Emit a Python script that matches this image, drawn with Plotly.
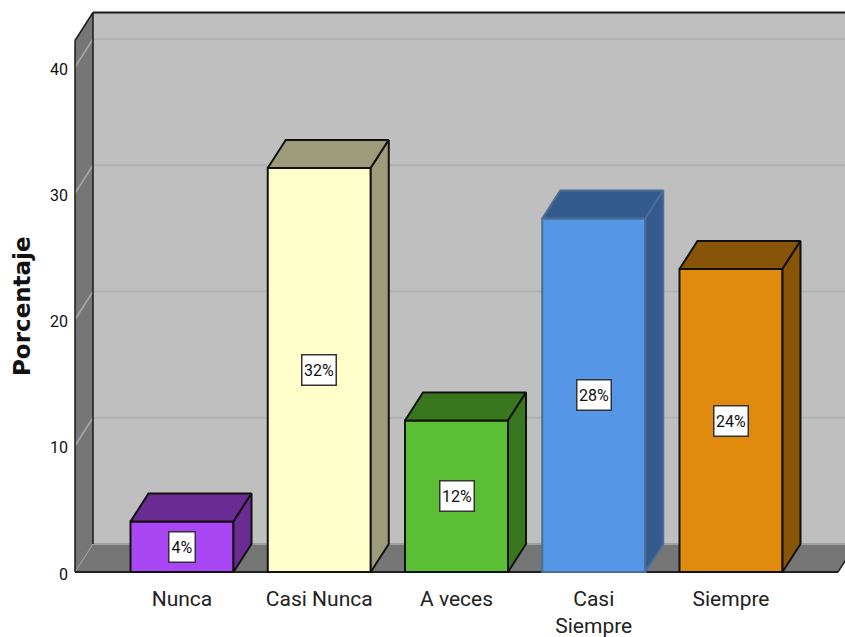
import plotly.graph_objects as go

categories = ["Nunca", "Casi Nunca", "A veces", "Casi Siempre", "Siempre"]
tick_labels = ["Nunca", "Casi Nunca", "A veces", "Casi<br>Siempre", "Siempre"]
values = [4, 32, 12, 28, 24]
front_colors = ["#A947F5", "#FFFFCB", "#5BBF36", "#5596E6", "#E08A0E"]
side_colors = ["#6A2C93", "#9C9C7C", "#39771F", "#345B8D", "#885408"]
edge_colors = ["#111111", "#111111", "#111111", "#4A6E96", "#111111"]
y_ticks = [0, 10, 20, 30, 40]

# pixel calibration of the plotting region
W, H = 845, 637
PX_X = 137.25      # px per category
PX_Y = 12.625      # px per percent
X0_PX, Y0_PX = 182.0, 572.0
LEFT_PX, BOTTOM_PX, TOP_PX = 69.0, 578.0, 10.0
DX, DY = 18 / PX_X, 28 / PX_Y    # depth of the 3D box
BAR_W = 103 / PX_X
X_L = (75 - X0_PX) / PX_X        # front-left corner of the box
X_R = (838 - X0_PX) / PX_X       # front-right corner of the floor
Y_T = (572 - 40.5) / PX_Y        # top of the wall, front

x_range = [(LEFT_PX - X0_PX) / PX_X, (W - X0_PX) / PX_X]
y_range = [(Y0_PX - BOTTOM_PX) / PX_Y, (Y0_PX - TOP_PX) / PX_Y]


def poly(xs, ys, fill, line="rgba(0,0,0,0)", width=0):
    path = "M " + " L ".join(f"{x},{y}" for x, y in zip(xs, ys)) + " Z"
    return dict(type="path", path=path, xref="x", yref="y", fillcolor=fill,
                line=dict(color=line, width=width), layer="below")


def seg(x0, y0, x1, y1, color, width=1.5):
    return dict(type="line", x0=x0, y0=y0, x1=x1, y1=y1, xref="x", yref="y",
                line=dict(color=color, width=width), layer="below")


shapes = []
# back wall
shapes.append(poly([X_L + DX, X_R + DX, X_R + DX, X_L + DX], [DY, DY, Y_T + DY, Y_T + DY], "#BFBFBF"))
# left wall
shapes.append(poly([X_L, X_L + DX, X_L + DX, X_L], [0, DY, Y_T + DY, Y_T], "#767676"))
# floor
shapes.append(poly([X_L, X_R, X_R + DX, X_L + DX], [0, 0, DY, DY], "#767676"))
# grid
for t in y_ticks[1:]:
    shapes.append(seg(X_L + DX, t + DY, X_R + DX, t + DY, "#B2B2B2", 2))
    shapes.append(seg(X_L, t, X_L + DX, t + DY, "#A8A8A8", 1.5))
shapes.append(seg(X_L + DX, DY, X_R + DX, DY, "#A0A0A0", 2))
shapes.append(seg(X_L, 0, X_L + DX, DY, "#A0A0A0", 1))
# black edges
shapes.append(seg(X_L, 0, X_L, Y_T, "#1A1A1A", 1.5))
shapes.append(seg(X_L + DX, DY, X_L + DX, Y_T + DY, "#1A1A1A", 1.5))
shapes.append(seg(X_L, Y_T, X_L + DX, Y_T + DY, "#1A1A1A", 1.5))
shapes.append(seg(X_L + DX, Y_T + DY, X_R + DX, Y_T + DY, "#1A1A1A", 2))
shapes.append(seg(X_L, 0, X_R, 0, "#222222", 2))
shapes.append(seg(X_R, 0, X_R + DX, DY, "#222222", 1.5))

fig = go.Figure()
positions = list(range(len(values)))

# front faces
fig.add_trace(go.Bar(
    x=positions, y=values, width=BAR_W,
    marker=dict(color=front_colors, line=dict(color=edge_colors, width=2)),
    hoverinfo="skip", showlegend=False,
))

# top and side faces
for p, v, side, edge in zip(positions, values, side_colors, edge_colors):
    l, r = p - BAR_W / 2, p + BAR_W / 2
    fig.add_trace(go.Scatter(
        x=[l, r, r + DX, l + DX, l], y=[v, v, v + DY, v + DY, v],
        mode="lines", fill="toself", fillcolor=side,
        line=dict(color=edge, width=2), hoverinfo="skip", showlegend=False,
    ))
    fig.add_trace(go.Scatter(
        x=[r, r + DX, r + DX, r, r], y=[0, DY, v + DY, v, 0],
        mode="lines", fill="toself", fillcolor=side,
        line=dict(color=edge, width=2), hoverinfo="skip", showlegend=False,
    ))

annotations = []
for p, v in zip(positions, values):
    label = f"{v}%"
    annotations.append(dict(
        x=p, y=v / 2, xref="x", yref="y", text=label, showarrow=False,
        font=dict(family="Roboto", size=16, color="#111111"),
        bgcolor="#FFFFFF", bordercolor="#333333", borderwidth=1.5, borderpad=0,
        width=33 if v >= 10 else 25, height=29, align="center", valign="middle",
    ))
annotations.append(dict(
    xref="paper", yref="paper",
    x=(22 - LEFT_PX) / (W - LEFT_PX),
    y=(BOTTOM_PX - 306) / (BOTTOM_PX - TOP_PX),
    text="<b>Porcentaje</b>", textangle=-90, showarrow=False,
    font=dict(family="DejaVu Sans", size=23, color="#111111"),
    xanchor="center", yanchor="middle",
))

fig.update_layout(
    width=W, height=H, autosize=False,
    margin=dict(l=LEFT_PX, r=0, t=TOP_PX, b=H - BOTTOM_PX, pad=0, autoexpand=False),
    paper_bgcolor="#FFFFFF", plot_bgcolor="#FFFFFF",
    shapes=shapes, annotations=annotations, showlegend=False,
    xaxis=dict(range=x_range, tickmode="array", tickvals=positions, ticktext=tick_labels,
               showgrid=False, zeroline=False, showline=False, ticks="", fixedrange=True,
               automargin=False, ticklabelstandoff=6,
               tickfont=dict(family="Roboto", size=21, color="#222222")),
    yaxis=dict(range=y_range, tickmode="array", tickvals=y_ticks,
               showgrid=False, zeroline=False, showline=False, ticks="", fixedrange=True,
               automargin=False, ticklabelstandoff=0, ticklabelshift=2,
               tickfont=dict(family="Roboto", size=16, color="#111111")),
)

fig.write_html("out.html", config=dict(displayModeBar=False),
               default_width="845px", default_height="637px",
               post_script="document.body.style.margin='0';document.documentElement.style.overflow='hidden';")
